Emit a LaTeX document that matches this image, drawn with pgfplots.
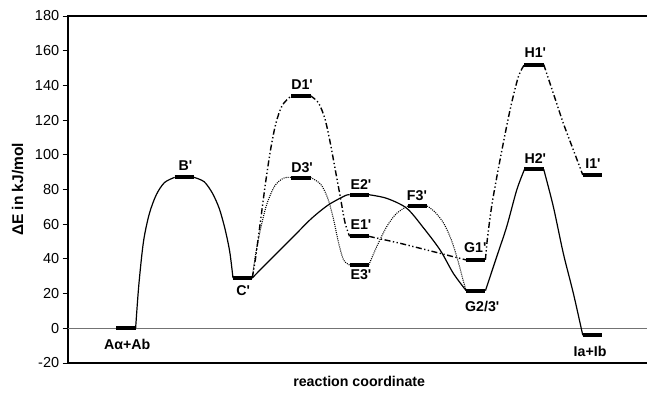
\documentclass[border=0pt]{standalone}
\usepackage{pgfplots}
\pgfplotsset{compat=1.18}
\usepackage{fontspec}
\setmainfont{Liberation Sans}
\newcommand{\q}{\textquotesingle}
\begin{document}
\begin{tikzpicture}
\useasboundingbox (-67.7pt,-31pt) rectangle (579.3pt,363pt);
\begin{axis}[
  scale only axis, width=583pt, height=347pt,
  xmin=0, xmax=10, ymin=-20, ymax=180,
  xtick=\empty, ytick={-20,0,...,180},
  tick align=outside, major tick length=5pt,
  ytick style={line width=1pt,black},
  axis line style={line width=1.8pt},
  tick label style={font=\fontsize{14.5}{16}\selectfont},
  /pgf/number format/assume math mode=true,
  ylabel={ΔE in kJ/mol},
  ylabel style={font=\bfseries\fontsize{15.5}{17}\selectfont, at={(axis description cs:-0.086,0.5)}, anchor=center},
  xlabel={reaction coordinate},
  xlabel style={font=\bfseries\fontsize{14.2}{16}\selectfont, at={(axis description cs:0.5,0)}, anchor=center, yshift=-18pt},
  unbounded coords=jump,
  clip mode=individual,
]
% zero line
\addplot[black!55, line width=0.9pt, forget plot] coordinates {(0,0) (10,0)};
% path 2 (solid)
\addplot[black, line width=1.2pt, smooth, tension=0.5] coordinates {
(1.165,0) (1.22,25) (1.30,50) (1.40,66) (1.52,77) (1.66,84) (1.835,87)
(nan,nan)
(2.165,87) (2.34,84.5) (2.48,78) (2.60,69) (2.70,57) (2.78,44) (2.835,29)
(nan,nan)
(3.165,29) (3.384,36.5) (3.613,44.2) (3.899,53.8) (4.185,63.4) (4.470,71.1) (4.756,76.4) (4.835,77)
(nan,nan)
(5.165,77) (5.472,74.9) (5.815,69.2) (6.10,58) (6.39,45) (6.614,31.7) (6.835,21.7)
(nan,nan)
(7.165,21.7) (7.359,41.3) (7.530,58.6) (7.702,79.7) (7.835,91.6)
(nan,nan)
(8.165,91.6) (8.330,70.1) (8.501,43.2) (8.673,20.2) (8.835,-4)
};
% path 1 (dash dot dot)
\addplot[black, line width=1.4pt, smooth, tension=0.5, dash pattern=on 6pt off 2.5pt on 1.3pt off 2.5pt on 1.3pt off 2.5pt] coordinates {
(3.165,29) (3.22,40) (3.30,60) (3.39,83) (3.48,103) (3.57,118) (3.68,128.5) (3.835,134)
(nan,nan)
(4.165,134) (4.30,130) (4.41,121) (4.50,107.5) (4.585,92.2) (4.670,76.8) (4.756,61) (4.835,53)
(nan,nan)
(5.165,53) (5.70,49) (6.27,44.2) (6.835,39.4)
(nan,nan)
(7.165,39.4) (7.20,52) (7.28,72) (7.415,97) (7.587,125.8) (7.730,145) (7.835,152)
(nan,nan)
(8.165,152) (8.330,135.4) (8.501,118.2) (8.673,102.8) (8.835,88.4)
};
% path 3 (dotted)
\addplot[black, line width=1.05pt, smooth, tension=0.5, dash pattern=on 1pt off 1.1pt] coordinates {
(3.165,29) (3.22,42) (3.30,56) (3.41,71) (3.55,82) (3.70,86.5) (3.835,87)
(nan,nan)
(4.165,87) (4.34,83) (4.46,75) (4.556,63.4) (4.642,49.9) (4.73,39.5) (4.835,36.5)
(nan,nan)
(5.165,36.5) (5.300,47) (5.472,58.6) (5.643,66.3) (5.835,70.5)
(nan,nan)
(6.165,70.5) (6.30,67) (6.45,60.5) (6.58,51) (6.69,39.4) (6.78,28) (6.835,21.7)
};
% energy levels
\addplot[black, line width=4pt] coordinates {
(0.835,0) (1.165,0) (nan,nan)
(1.835,87) (2.165,87) (nan,nan)
(2.835,29) (3.165,29) (nan,nan)
(3.835,134) (4.165,134) (nan,nan)
(3.835,86.5) (4.165,86.5) (nan,nan)
(4.835,77) (5.165,77) (nan,nan)
(4.835,53) (5.165,53) (nan,nan)
(4.835,36.5) (5.165,36.5) (nan,nan)
(5.835,70.5) (6.165,70.5) (nan,nan)
(6.835,39.4) (7.165,39.4) (nan,nan)
(6.835,21.7) (7.165,21.7) (nan,nan)
(7.835,152) (8.165,152) (nan,nan)
(7.835,91.6) (8.165,91.6) (nan,nan)
(8.835,88.4) (9.165,88.4) (nan,nan)
(8.835,-4) (9.165,-4)
};
\begin{scope}[every node/.style={font=\bfseries\fontsize{14.2}{16}\selectfont, anchor=center, inner sep=0pt}]
\node at (axis cs:1.02,-9.5) {Aα+Ab};
\node at (axis cs:2.02,94) {B\q};
\node at (axis cs:3.01,21.5) {C\q};
\node at (axis cs:4.02,140.5) {D1\q};
\node at (axis cs:4.02,92.5) {D3\q};
\node at (axis cs:5.03,83) {E2\q};
\node at (axis cs:5.03,59.5) {E1\q};
\node at (axis cs:5.03,31) {E3\q};
\node at (axis cs:5.99,76.5) {F3\q};
\node at (axis cs:6.99,46.5) {G1\q};
\node at (axis cs:7.11,12.5) {G2/3\q};
\node at (axis cs:8.02,159) {H1\q};
\node at (axis cs:8.02,98) {H2\q};
\node at (axis cs:9.01,95) {I1\q};
\node at (axis cs:8.96,-13.5) {Ia+Ib};
\end{scope}
\end{axis}
\end{tikzpicture}
\end{document}
